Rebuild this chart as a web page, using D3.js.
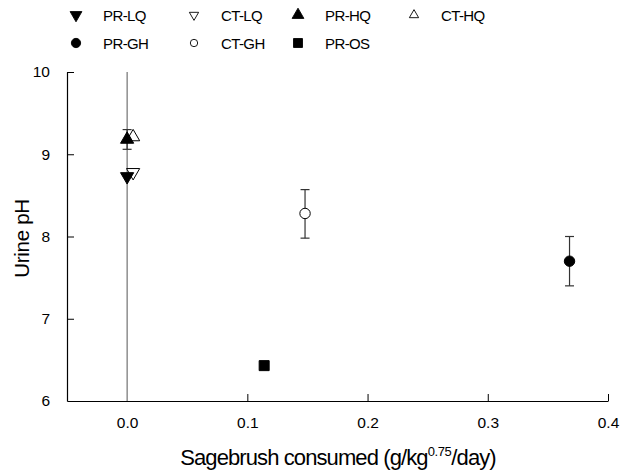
<!DOCTYPE html>
<html><head><meta charset="utf-8">
<script src="https://cdn.jsdelivr.net/npm/d3@7"></script>
<style>body{margin:0;background:#fff}svg{display:block;font-family:Arial,"Liberation Sans",sans-serif}</style>
</head><body><svg id="c" width="626" height="471"></svg>
<script>
const series = ["PR-LQ","CT-LQ","PR-HQ","CT-HQ","PR-GH","CT-GH","PR-OS"];
const sagebrush = [0, 0.005, 0, 0.005, 0.368, 0.148, 0.114];
const urinePH = [8.73, 8.78, 9.18, 9.21, 7.70, 8.28, 6.43];
const errLow = [null, null, 9.06, null, 7.40, 7.98, null];
const errHigh = [null, null, 9.30, null, 8.00, 8.57, null];
const shapes = ["down","down","up","up","circle","circle","square"];
const filled = [true,false,true,false,true,false,true];
const xTicks = [0.0, 0.1, 0.2, 0.3, 0.4];
const yTicks = [6, 7, 8, 9, 10];

const svg = d3.select("#c");
const x = d3.scaleLinear().domain([-0.05, 0.4]).range([67, 608]);
const y = d3.scaleLinear().domain([6, 10]).range([401, 72]);

// vertical reference line at x=0
svg.append("line").attr("x1", x(0)).attr("x2", x(0)).attr("y1", y(10)).attr("y2", y(6))
  .attr("stroke", "#555").attr("stroke-width", 1);

// axes
const xAxis = d3.axisBottom(x).tickValues(xTicks).tickFormat(d3.format(".1f")).tickSizeInner(-7).tickSizeOuter(0).tickPadding(16);
const gx = svg.append("g").attr("transform", `translate(0,${y(6)})`).call(xAxis);
const yAxis = d3.axisLeft(y).tickValues(yTicks).tickFormat(d3.format("d")).tickSizeInner(-7).tickSizeOuter(0).tickPadding(17);
const gy = svg.append("g").attr("transform", `translate(${x(-0.05)},0)`).call(yAxis);
[gx, gy].forEach(g => {
  g.select(".domain").attr("stroke", "#000").attr("stroke-width", 1.2);
  g.selectAll(".tick line").attr("stroke", "#000");
  g.selectAll(".tick text").attr("font-size", 15.5).attr("fill", "#000").attr("font-family", "Arial, Liberation Sans, sans-serif");
});
gy.select(".tick:first-of-type line").remove();
gx.selectAll(".tick").filter(d => d === 0).select("line").remove();

// axis titles
svg.append("text").attr("transform", `translate(29,${(y(6)+y(10))/2 + 2}) rotate(-90)`)
  .attr("text-anchor", "middle").attr("font-size", 20.5).attr("letter-spacing", -0.3).text("Urine pH");
const xt = svg.append("text").attr("x", 338).attr("y", 465).attr("text-anchor", "middle")
  .attr("font-size", 22).attr("letter-spacing", -0.9);
xt.append("tspan").text("Sagebrush consumed (g/kg");
xt.append("tspan").attr("dy", -9).attr("font-size", 13).attr("letter-spacing", -0.4).text("0.75");
xt.append("tspan").attr("dy", 9).text("/day)");

// symbol generator
function sym(shape, size) {
  const t = {down: d3.symbolTriangle, up: d3.symbolTriangle, circle: d3.symbolCircle, square: d3.symbolSquare}[shape];
  return d3.symbol().type(t).size(size)();
}
function rot(shape) { return shape === "down" ? " rotate(180)" : ""; }
const sizes = {down: 75, up: 75, circle: 85, square: 100};

// error bars
series.forEach((s, i) => {
  if (errLow[i] == null) return;
  const g = svg.append("g").attr("stroke", "#333").attr("stroke-width", 1.2);
  const cx = x(sagebrush[i]);
  g.append("line").attr("x1", cx).attr("x2", cx).attr("y1", y(errLow[i])).attr("y2", y(errHigh[i]));
  g.append("line").attr("x1", cx - 4.5).attr("x2", cx + 4.5).attr("y1", y(errLow[i])).attr("y2", y(errLow[i]));
  g.append("line").attr("x1", cx - 4.5).attr("x2", cx + 4.5).attr("y1", y(errHigh[i])).attr("y2", y(errHigh[i]));
});

// points: draw open first then filled
const order = d3.range(series.length).sort((a, b) => (filled[a] - filled[b]));
order.forEach(i => {
  svg.append("path").attr("d", sym(shapes[i], sizes[shapes[i]]))
    .attr("transform", `translate(${x(sagebrush[i])},${y(urinePH[i])})${rot(shapes[i])}`)
    .attr("fill", filled[i] ? "#000" : "#fff").attr("stroke", "#000").attr("stroke-width", 1);
});

// legend
const legX = [76, 194, 298, 414];
const legY = [15, 43];
series.forEach((s, i) => {
  const col = i % 4, row = Math.floor(i / 4);
  const lx = legX[col], ly = legY[row];
  const sz = filled[i] ? sizes[shapes[i]] * 0.8 : sizes[shapes[i]] * 0.5;
  svg.append("path").attr("d", sym(shapes[i], sz))
    .attr("transform", `translate(${lx},${ly})${rot(shapes[i])}`)
    .attr("fill", filled[i] ? "#000" : "#fff").attr("stroke", "#000").attr("stroke-width", 0.9);
  svg.append("text").attr("x", lx + 27).attr("y", ly + 5.5).attr("font-size", 15).attr("letter-spacing", -0.6).text(s);
});
</script></body></html>
